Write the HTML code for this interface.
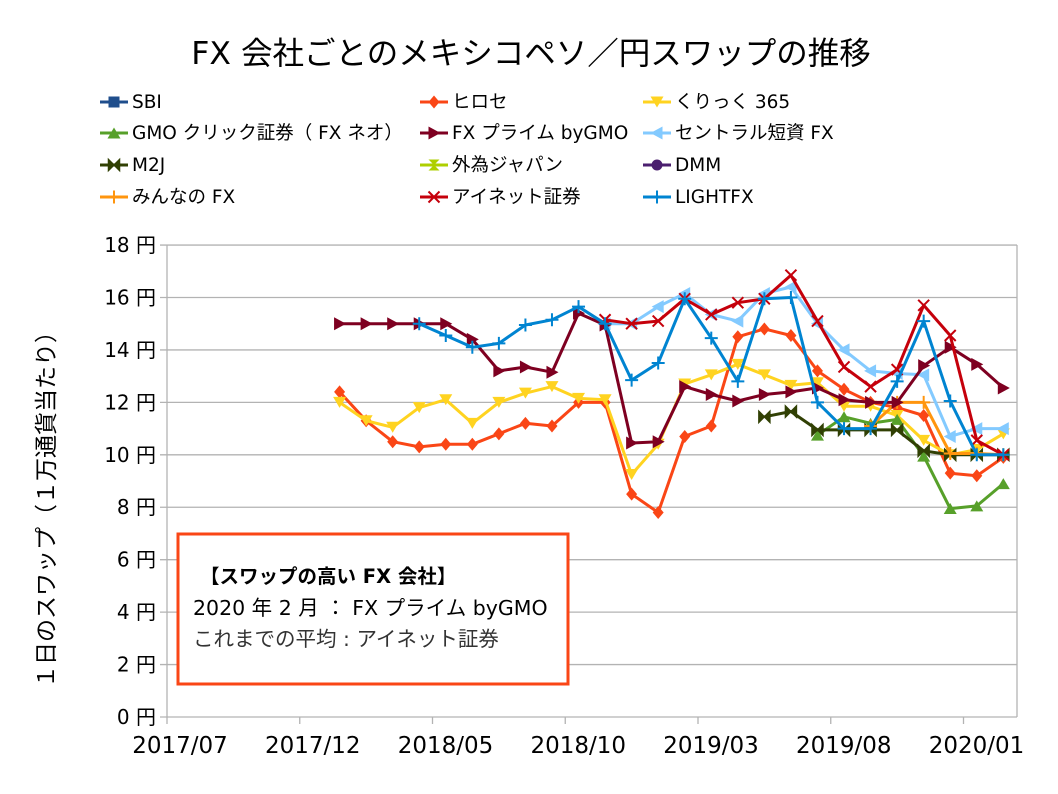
<!DOCTYPE html>
<html><head><meta charset="utf-8">
<style>
body{margin:0;background:#fff;}
svg{display:block;font-family:"DejaVu Sans","Noto Sans CJK JP",sans-serif;}
</style></head>
<body>
<svg id="chart" width="1058" height="794" viewBox="0 0 1058 794">
<rect width="1058" height="794" fill="#fff"/>
<text x="531" y="64" text-anchor="middle" font-size="31.5" fill="#000">FX 会社ごとのメキシコペソ／円スワップの推移</text>
<g id="grid"></g>
<g id="axes"></g>
<g id="series"></g>
<g id="legend"></g>
<text transform="translate(54,504) rotate(-90)" text-anchor="middle" font-size="23" fill="#000">１日のスワップ（１万通貨当たり）</text>
<g>
<rect x="178" y="534" width="390" height="150" fill="#fff" stroke="#fa4616" stroke-width="3"/>
<text x="200" y="583" font-size="19.5" font-weight="bold" fill="#000">【スワップの高い FX 会社】</text>
<text x="193" y="615" font-size="20.5" fill="#000">2020 年 2 月 ： FX プライム byGMO</text>
<text x="193" y="646" font-size="20.5" fill="#333">これまでの平均 : アイネット証券</text>
</g>
</svg>
<script>
const months = ["2018/01","2018/02","2018/03","2018/04","2018/05","2018/06","2018/07","2018/08","2018/09","2018/10","2018/11","2018/12","2019/01","2019/02","2019/03","2019/04","2019/05","2019/06","2019/07","2019/08","2019/09","2019/10","2019/11","2019/12","2020/01","2020/02"];
const yTicks = [0,2,4,6,8,10,12,14,16,18];
const xTickLabels = ["2017/07","2017/12","2018/05","2018/10","2019/03","2019/08","2020/01"];
const seriesNames = ["SBI","ヒロセ","くりっく 365","GMO クリック証券（ FX ネオ）","FX プライム byGMO","セントラル短資 FX","M2J","外為ジャパン","DMM","みんなの FX","アイネット証券","LIGHTFX"];
const sbi = [];
const hirose = [12.4,11.3,10.5,10.3,10.4,10.4,10.8,11.2,11.1,12.0,12.0,8.5,7.8,10.7,11.1,14.5,14.8,14.55,13.2,12.5,12.0,11.8,11.5,9.3,9.2,9.9];
const click365 = [12.0,11.3,11.05,11.8,12.1,11.2,12.0,12.35,12.6,12.15,12.1,9.25,10.4,12.7,13.05,13.45,13.05,12.65,12.75,11.85,11.85,11.5,10.55,10.0,10.2,10.8];
const gmoClick = [null,null,null,null,null,null,null,null,null,null,null,null,null,null,null,null,null,null,10.75,11.45,11.2,11.35,9.95,7.95,8.05,8.9];
const fxPrime = [15.0,15.0,15.0,15.0,15.0,14.4,13.2,13.35,13.15,15.4,14.95,10.45,10.5,12.6,12.3,12.05,12.3,12.4,12.55,12.1,12.0,12.0,13.4,14.1,13.45,12.55];
const central = [null,null,null,null,null,null,null,null,null,null,15.0,15.0,15.65,16.15,15.35,15.1,16.15,16.4,15.0,14.0,13.2,13.1,13.05,10.7,11.0,11.0];
const m2j = [null,null,null,null,null,null,null,null,null,null,null,null,null,null,null,null,11.45,11.65,10.95,10.95,10.95,10.95,10.15,10.0,10.0,10.0];
const gaitame = [];
const dmm = [];
const minna = [null,null,null,null,null,null,null,null,null,null,null,null,null,null,null,null,null,null,null,null,11.1,12.0,12.0,10.05,10.05,10.0];
const inet = [null,null,null,null,null,null,null,null,null,null,15.15,15.0,15.1,15.95,15.35,15.8,15.95,16.85,15.1,13.35,12.6,13.25,15.7,14.55,10.55,10.0];
const lightfx = [null,null,null,15.0,14.55,14.1,14.25,14.95,15.15,15.65,15.0,12.85,13.5,15.95,14.45,12.8,15.95,16.0,12.0,11.0,11.0,12.8,15.1,12.05,10.0,10.0];

const NS="http://www.w3.org/2000/svg";
const X0=167, PX_M=26.55, Y0=717, PX_U=26.22, XR=1017;
function xMonth(m){return X0+m*PX_M;}
function xIdx(i){return xMonth(i+6.5);}
function yVal(v){return Y0-v*PX_U;}
function mk(tag,attrs,parent){const e=document.createElementNS(NS,tag);for(const k in attrs)e.setAttribute(k,attrs[k]);parent.appendChild(e);return e;}

const grid=document.getElementById('grid'), axes=document.getElementById('axes');
yTicks.forEach(t=>{
  const gl=mk('line',{x1:X0-7,x2:XR,y1:yVal(t),y2:yVal(t),stroke:'#b3b3b3','stroke-width':1.3},grid);
  
  
  const tl=mk('text',{x:156,y:yVal(t)+7,'text-anchor':'end','font-size':20,fill:'#000'},axes);
  tl.textContent=t+' 円';
  
  
});
const ax=mk('line',{x1:X0,x2:X0,y1:yVal(18),y2:Y0,stroke:'#b3b3b3','stroke-width':1.3},axes);


const ax2=mk('line',{x1:XR,x2:XR,y1:yVal(18),y2:Y0,stroke:'#b3b3b3','stroke-width':1.3},axes);


xTickLabels.forEach((lab,k)=>{
  const x=xMonth(k*5);
  const tk=mk('line',{x1:x,x2:x,y1:Y0,y2:Y0+7,stroke:'#b3b3b3','stroke-width':1.3},axes);
  
  
  const tl=mk('text',{x:x+13,y:753,'text-anchor':'middle','font-size':23,fill:'#000'},axes);
  tl.textContent=lab;
  
  
});

function marker(type,x,y,c,g){
  const s=5.5;
  if(type==='square')return mk('rect',{x:x-s,y:y-s,width:2*s,height:2*s,fill:c},g);
  if(type==='diamond')return mk('polygon',{points:`${x},${y-s-1} ${x+s},${y} ${x},${y+s+1} ${x-s},${y}`,fill:c},g);
  if(type==='down')return mk('polygon',{points:`${x-s-1},${y-s} ${x+s+1},${y-s} ${x},${y+s}`,fill:c},g);
  if(type==='up')return mk('polygon',{points:`${x-s-1},${y+s} ${x+s+1},${y+s} ${x},${y-s}`,fill:c},g);
  if(type==='right')return mk('polygon',{points:`${x-s},${y-s-1} ${x-s},${y+s+1} ${x+s+1},${y}`,fill:c},g);
  if(type==='left')return mk('polygon',{points:`${x+s},${y-s-1} ${x+s},${y+s+1} ${x-s-1},${y}`,fill:c},g);
  if(type==='bowtie')return mk('path',{d:`M${x-s},${y-s}L${x+s},${y+s}L${x+s},${y-s}L${x-s},${y+s}Z`,fill:c,stroke:c,'stroke-width':1.5},g);
  if(type==='hourglass')return mk('path',{d:`M${x-s},${y-s}L${x+s},${y-s}L${x-s},${y+s}L${x+s},${y+s}Z`,fill:c},g);
  if(type==='circle')return mk('circle',{cx:x,cy:y,r:s,fill:c},g);
  if(type==='plus')return mk('path',{d:`M${x-s-1},${y}H${x+s+1}M${x},${y-s-1}V${y+s+1}`,stroke:c,'stroke-width':2,fill:'none'},g);
  if(type==='x')return mk('path',{d:`M${x-s},${y-s}L${x+s},${y+s}M${x+s},${y-s}L${x-s},${y+s}`,stroke:c,'stroke-width':2,fill:'none'},g);
}
const seriesData=[sbi,hirose,click365,gmoClick,fxPrime,central,m2j,gaitame,dmm,minna,inet,lightfx];
const colors=['#1f4e8c','#fa4616','#ffd320','#57a02a','#7e0021','#83caff','#314004','#aecf00','#4b1f6f','#ff950e','#c5000b','#0084d1'];
const markers=['square','diamond','down','up','right','left','bowtie','hourglass','circle','plus','x','plus'];
const slugs=['sbi','hirose','click365','gmo-click','fx-prime','central-tanshi','m2j','gaitame-japan','dmm','minna-fx','inet','lightfx'];
const drawOrder=[0,1,2,3,6,7,8,9,5,4,10,11];
const sg=document.getElementById('series');
drawOrder.forEach(k=>{
  const data=seriesData[k];
  const g=mk('g',{},sg);
  
  
  let d='',pen=false;
  data.forEach((v,i)=>{
    if(v==null){pen=false;return;}
    d+=(pen?'L':'M')+xIdx(i).toFixed(1)+','+yVal(v).toFixed(1);pen=true;
  });
  if(d){
    const p=mk('path',{d:d,fill:'none',stroke:colors[k],'stroke-width':3,'stroke-linejoin':'round'},g);
    
    
  }
  data.forEach((v,i)=>{
    if(v==null)return;
    const m=marker(markers[k],xIdx(i),yVal(v),colors[k],g);
    
    
  });
});
const lg=document.getElementById('legend');
const colX=[100,420,643], rowY=[102,133,165,197];
seriesNames.forEach((n,k)=>{
  const cx=colX[k%3], cy=rowY[Math.floor(k/3)];
  const g=mk('g',{},lg);
  
  
  mk('line',{x1:cx,x2:cx+28,y1:cy,y2:cy,stroke:colors[k],'stroke-width':3},g);
  marker(markers[k],cx+14,cy,colors[k],g);
  const t=mk('text',{x:cx+32,y:cy+6,'font-size':18.5,fill:'#000'},g);
  t.textContent=n;
});
</script>
</body></html>
